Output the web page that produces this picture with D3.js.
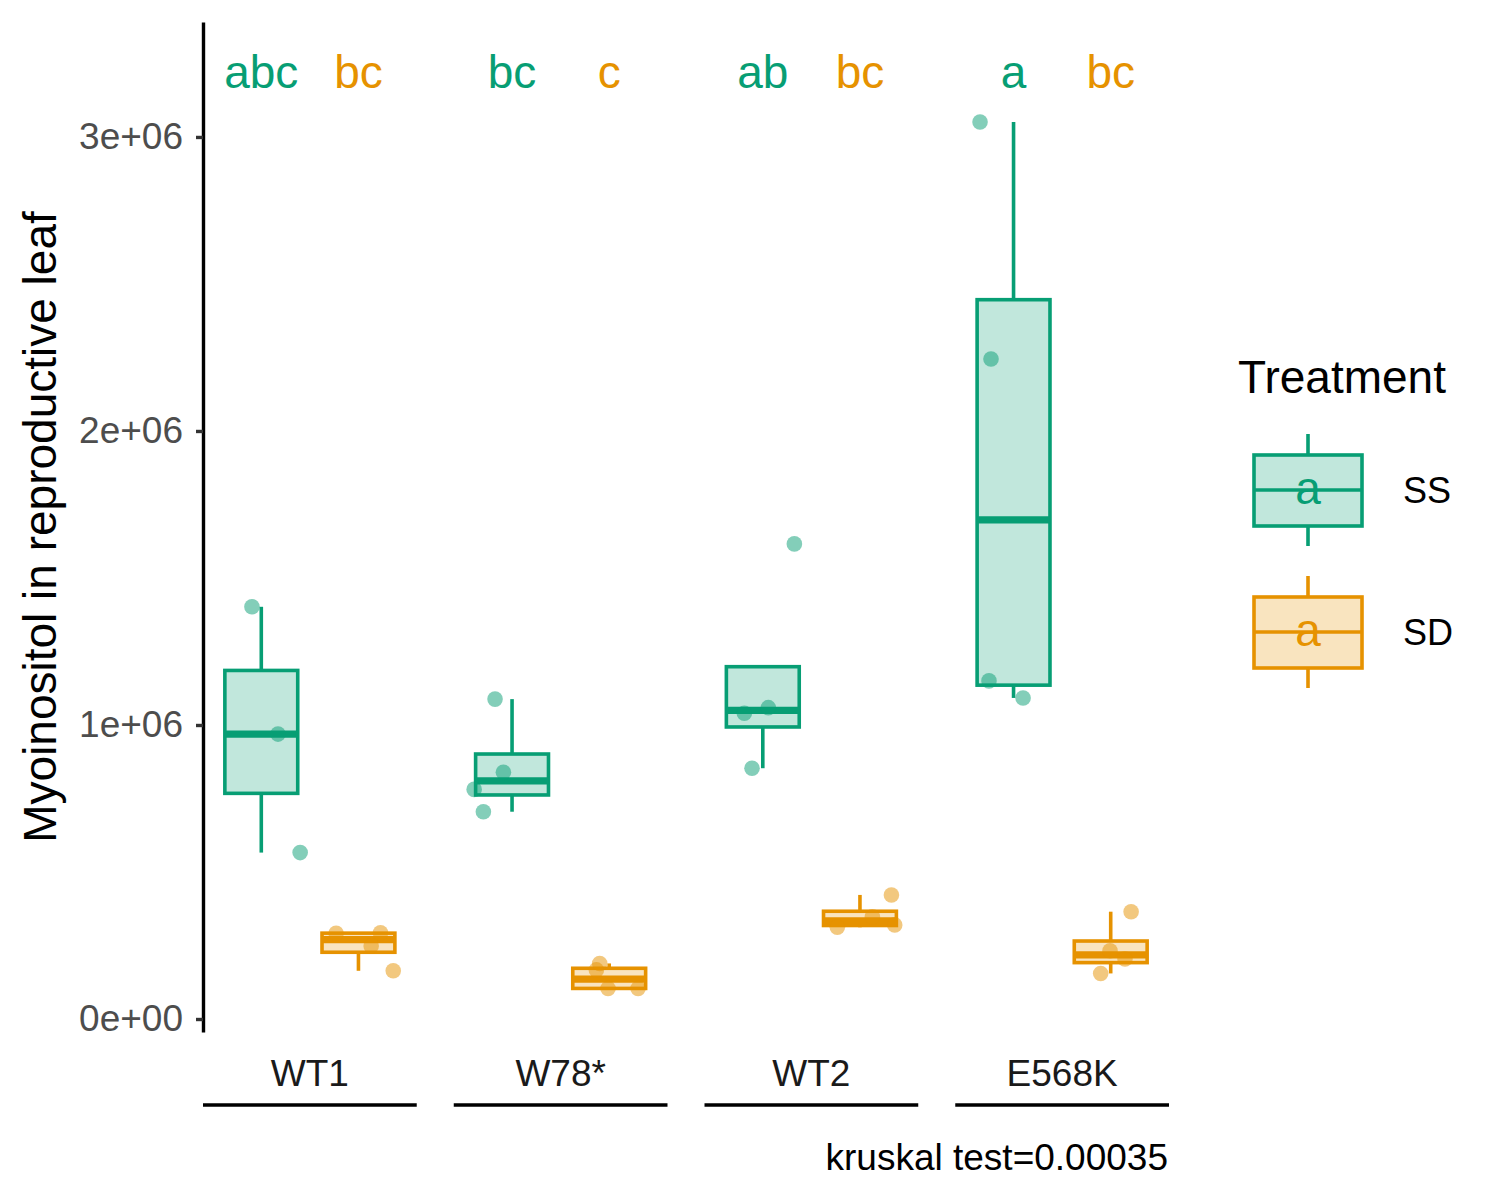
<!DOCTYPE html>
<html><head><meta charset="utf-8">
<script src="https://cdn.jsdelivr.net/npm/d3@7"></script>
<style>body{margin:0;background:#fff}svg{display:block}text{font-family:"Liberation Sans",Arial,sans-serif}</style>
</head><body>
<script>
// ---- data ----
const genotypes = ["WT1", "W78*", "WT2", "E568K"];
const treatments = ["SS", "SD"];
const ssValues = [[1.402e6, 0.969e6, 0.566e6], [1.088e6, 0.839e6, 0.781e6, 0.705e6], [1.616e6, 1.040e6, 1.059e6, 0.853e6], [3.051e6, 2.245e6, 1.150e6, 1.092e6]];
const sdValues = [[0.2915e6, 0.2935e6, 0.248e6, 0.164e6], [0.189e6, 0.167e6, 0.104e6, 0.104e6], [0.422e6, 0.312e6, 0.348e6, 0.320e6], [0.365e6, 0.232e6, 0.204e6, 0.155e6]];
// jitter offsets in units of the treatment step
const ssJitter = [[-0.096, 0.172, 0.40], [-0.175, -0.089, -0.39, -0.295], [0.325, -0.19, 0.057, -0.111], [-0.345, -0.232, -0.253, 0.098]];
const sdJitter = [[-0.23, 0.227, 0.131, 0.358], [-0.098, -0.132, -0.012, 0.297], [0.324, -0.233, 0.128, 0.358], [0.21, -0.007, 0.147, -0.103]];
const ssLetters = ["abc", "bc", "ab", "a"];
const sdLetters = ["bc", "c", "bc", "bc"];
const letterY = 3.22e6;
const yTicks = [0, 1e6, 2e6, 3e6];
const colors = { SS: "#079E74", SD: "#E69200" };
const yTitle = "Myoinositol in reproductive leaf";
const legendTitle = "Treatment";
const testNote = "kruskal test=0.00035";

// ---- setup ----
const W = 1500, H = 1200;
const svg = d3.select("body").append("svg").attr("width", W).attr("height", H);
const y = d3.scaleLinear().domain([-0.0442e6, 3.391e6]).range([1032, 22]);
const outer = d3.scaleBand().domain(genotypes).range([203, 1169]).paddingInner(0.1476).paddingOuter(0);
const inner = d3.scalePoint().domain(treatments).range([0, outer.bandwidth()]).padding(0.6);
const step = inner.step();
const boxW = step * 0.75;
const LW = 3.6;

function fmt(d) {
  if (d === 0) return "0e+00";
  const e = Math.floor(Math.log10(d));
  const m = Math.round(d / Math.pow(10, e));
  return m + "e+" + String(e).padStart(2, "0");
}

// y axis
const yAxis = svg.append("g").attr("transform", "translate(203,0)")
  .call(d3.axisLeft(y).tickValues(yTicks).tickFormat(fmt).tickSize(7).tickSizeOuter(0).tickPadding(13));
yAxis.select(".domain").attr("stroke", "#000").attr("stroke-width", 3.4);
yAxis.selectAll(".tick line").attr("stroke", "#333").attr("stroke-width", 3.4);
yAxis.selectAll(".tick text").attr("fill", "#4D4D4D").attr("font-size", 37)
  .attr("font-family", '"Liberation Sans",Arial,sans-serif');

svg.append("text").attr("transform", "translate(56,527) rotate(-90)")
  .attr("text-anchor", "middle").attr("font-size", 46).attr("fill", "#000").text(yTitle);

function stats(vals) {
  const s = vals.slice().sort(d3.ascending);
  const q1 = d3.quantile(s, 0.25), med = d3.quantile(s, 0.5), q3 = d3.quantile(s, 0.75);
  const iqr = q3 - q1;
  const inl = s.filter(v => v >= q1 - 1.5 * iqr && v <= q3 + 1.5 * iqr);
  return { q1, med, q3, lo: Math.min(q1, d3.min(inl)), hi: Math.max(q3, d3.max(inl)) };
}

const groups = [];
genotypes.forEach((g, i) => {
  groups.push({ g, t: "SS", vals: ssValues[i], jit: ssJitter[i], letter: ssLetters[i] });
  groups.push({ g, t: "SD", vals: sdValues[i], jit: sdJitter[i], letter: sdLetters[i] });
});

const plot = svg.append("g");
groups.forEach(d => {
  const cx = outer(d.g) + inner(d.t);
  const s = stats(d.vals);
  const c = colors[d.t];
  const gg = plot.append("g");
  gg.append("line").attr("x1", cx).attr("x2", cx).attr("y1", y(s.q3)).attr("y2", y(s.hi))
    .attr("stroke", c).attr("stroke-width", LW);
  gg.append("line").attr("x1", cx).attr("x2", cx).attr("y1", y(s.q1)).attr("y2", y(s.lo))
    .attr("stroke", c).attr("stroke-width", LW);
  gg.append("rect").attr("x", cx - boxW / 2).attr("width", boxW)
    .attr("y", y(s.q3)).attr("height", y(s.q1) - y(s.q3))
    .attr("fill", c).attr("fill-opacity", 0.25).attr("stroke", c).attr("stroke-width", LW);
  gg.append("line").attr("x1", cx - boxW / 2).attr("x2", cx + boxW / 2).attr("y1", y(s.med)).attr("y2", y(s.med))
    .attr("stroke", c).attr("stroke-width", LW * 2);
});
groups.forEach(d => {
  const cx = outer(d.g) + inner(d.t);
  const c = colors[d.t];
  plot.append("g").selectAll("circle").data(d.vals).join("circle")
    .attr("cx", (v, k) => cx + d.jit[k] * step).attr("cy", v => y(v)).attr("r", 7.8)
    .attr("fill", c).attr("fill-opacity", 0.5);
  plot.append("text").attr("x", cx).attr("y", y(letterY)).attr("dy", "0.35em")
    .attr("text-anchor", "middle").attr("font-size", 46).attr("fill", c).text(d.letter);
});

// bottom strips
genotypes.forEach(g => {
  svg.append("text").attr("x", outer(g) + outer.bandwidth() / 2).attr("y", 1086)
    .attr("text-anchor", "middle").attr("font-size", 37).attr("fill", "#1A1A1A").text(g);
  svg.append("line").attr("x1", outer(g)).attr("x2", outer(g) + outer.bandwidth())
    .attr("y1", 1105).attr("y2", 1105).attr("stroke", "#000").attr("stroke-width", 3.4);
});
svg.append("text").attr("x", 1168).attr("y", 1170).attr("text-anchor", "end")
  .attr("font-size", 37).attr("fill", "#000").text(testNote);

// legend
const lg = svg.append("g");
lg.append("text").attr("x", 1238).attr("y", 393).attr("font-size", 46).attr("fill", "#000").text(legendTitle);
treatments.forEach((t, i) => {
  const cy = 490 + i * 142;
  const c = colors[t];
  const kx = 1308, kw = 108, top = cy - 35, bot = cy + 36;
  lg.append("line").attr("x1", kx).attr("x2", kx).attr("y1", cy - 56).attr("y2", top).attr("stroke", c).attr("stroke-width", LW);
  lg.append("line").attr("x1", kx).attr("x2", kx).attr("y1", bot).attr("y2", cy + 56).attr("stroke", c).attr("stroke-width", LW);
  lg.append("rect").attr("x", kx - kw / 2).attr("width", kw).attr("y", top).attr("height", bot - top)
    .attr("fill", c).attr("fill-opacity", 0.25).attr("stroke", c).attr("stroke-width", LW);
  lg.append("line").attr("x1", kx - kw / 2).attr("x2", kx + kw / 2).attr("y1", cy).attr("y2", cy)
    .attr("stroke", c).attr("stroke-width", LW);
  lg.append("text").attr("x", kx).attr("y", cy).attr("dy", "0.3em").attr("text-anchor", "middle")
    .attr("font-size", 46).attr("fill", c).text("a");
  lg.append("text").attr("x", 1403).attr("y", cy).attr("dy", "0.36em").attr("font-size", 36)
    .attr("fill", "#000").text(t);
});
</script>
</body></html>
